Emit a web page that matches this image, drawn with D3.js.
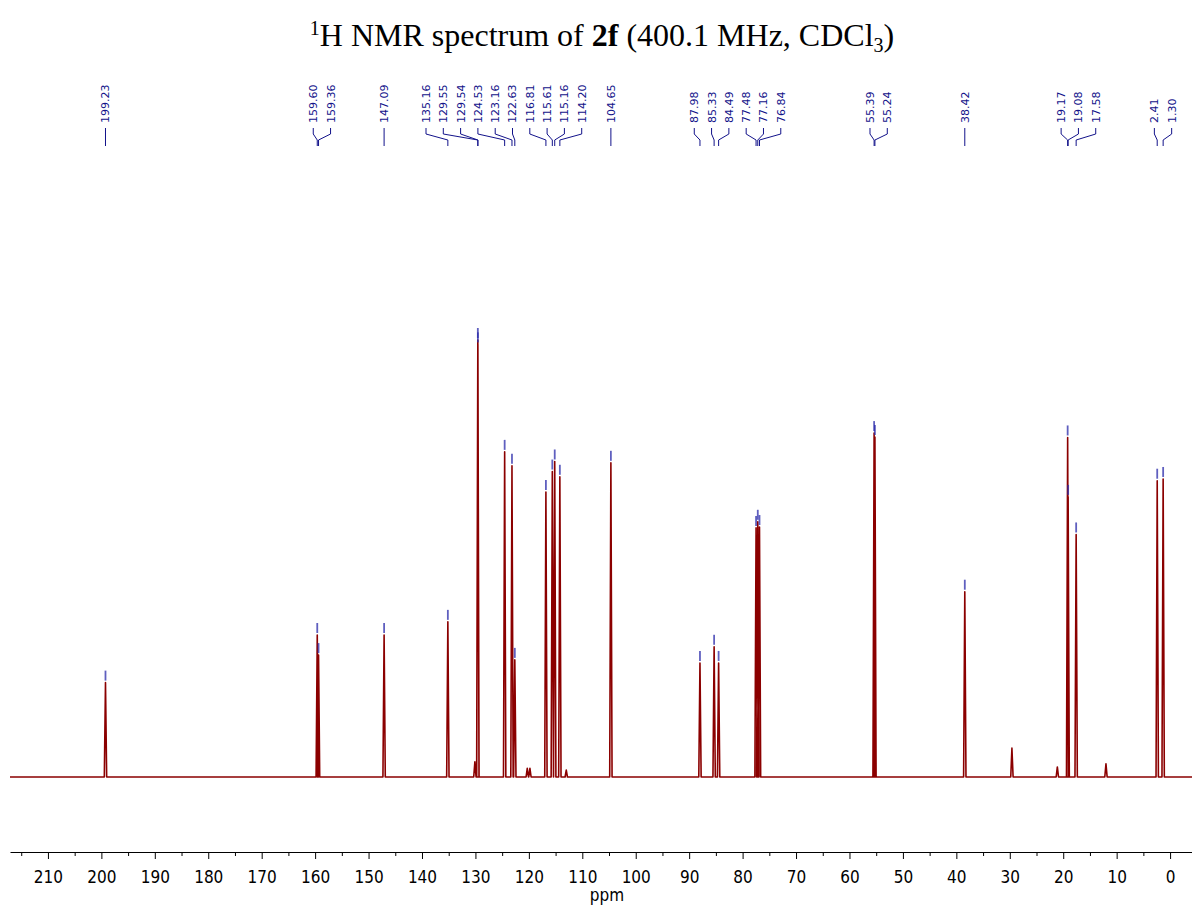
<!DOCTYPE html>
<meta charset="utf-8">
<script src="https://d3js.org/d3.v7.min.js"></script>
<style>
  body { margin: 0; background: #fff; }
</style>
<div id="spectrum"></div>
<script>
  // labelled peaks: shift (ppm) and height (% of the tallest line)
  var peakPpm = [199.23, 159.60, 159.36, 147.09, 135.16, 129.55, 129.54, 124.53, 123.16, 122.63,
    116.81, 115.61, 115.16, 114.20, 104.65, 87.98, 85.33, 84.49, 77.48, 77.16, 76.84,
    55.39, 55.24, 38.42, 19.17, 19.08, 17.58, 2.41, 1.30];
  var peakHeight = [21.6, 32.5, 27.9, 32.5, 35.5, 100, 99, 74.4, 71.2, 26.8,
    65.2, 69.9, 72.2, 68.7, 71.9, 26.1, 29.8, 26.1, 57.0, 58.4, 57.2,
    78.7, 77.8, 42.4, 77.7, 64.1, 55.5, 67.8, 68.2];

  // small signals without a label
  var minorPpm = [130.1, 120.3, 119.8, 113.0, 29.6, 21.1, 12.0];
  var minorHeight = [3.5, 2.0, 2.0, 1.6, 6.6, 2.3, 3.0];

  // axis ticks
  var tickLabels = [210, 200, 190, 180, 170, 160, 150, 140, 130, 120, 110, 100, 90, 80, 70, 60, 50, 40, 30, 20, 10, 0];
  var minorTicks = [215, 205, 195, 185, 175, 165, 155, 145, 135, 125, 115, 105, 95, 85, 75, 65, 55, 45, 35, 25, 15, 5];

  var width = 1192, height = 908;
  var lineColor = "#8b0000", labelColor = "#12128a";

  var svg = d3.select("#spectrum")
    .append("svg")
    .attr("width", width)
    .attr("height", height)
    .style("display", "block");

  // scales (ppm runs right to left)
  var x = d3.scaleLinear().domain([217.1, -4.1]).range([10, 1192]);
  var y = d3.scaleLinear().domain([0, 100]).range([777, 340]);

  // title
  var title = svg.append("text")
    .attr("x", 602)
    .attr("y", 46)
    .attr("text-anchor", "middle")
    .style("font-family", "'Liberation Serif', 'Times New Roman', serif")
    .style("font-size", "32px")
    .style("fill", "#000");
  title.append("tspan").attr("dy", -11).style("font-size", "20px").text("1");
  title.append("tspan").attr("dy", 11).text("H NMR spectrum of ");
  title.append("tspan").style("font-weight", "bold").text("2f");
  title.append("tspan").text(" (400.1 MHz, CDCl");
  title.append("tspan").attr("dy", 6).style("font-size", "20px").text("3");
  title.append("tspan").attr("dy", -6).text(")");

  // spectrum trace built from the peak list
  var peaks = peakPpm.map(function (p, i) { return { ppm: p, h: peakHeight[i] }; })
    .concat(minorPpm.map(function (p, i) { return { ppm: p, h: minorHeight[i] }; }))
    .sort(function (a, b) { return b.ppm - a.ppm; });

  var w = 0.22;
  var pts = [[x.domain()[0], 0]];
  peaks.forEach(function (d) {
    pts.push([d.ppm + w, 0]);
    pts.push([d.ppm, d.h]);
    pts.push([d.ppm - w, 0]);
  });
  pts.push([x.domain()[1], 0]);

  var line = d3.line()
    .x(function (d) { return x(d[0]); })
    .y(function (d) { return y(d[1]); });

  svg.append("path")
    .attr("d", line(pts))
    .attr("fill", "none")
    .attr("stroke", lineColor)
    .attr("stroke-width", 1.6)
    .attr("stroke-linejoin", "round");

  // little markers on top of each labelled peak
  svg.selectAll(".mark")
    .data(peakPpm)
    .enter()
    .append("line")
    .attr("x1", function (d) { return x(d); })
    .attr("x2", function (d) { return x(d); })
    .attr("y1", function (d, i) { return y(peakHeight[i]) - 12; })
    .attr("y2", function (d, i) { return y(peakHeight[i]) - 2; })
    .attr("stroke", "#2a2aaa")
    .attr("stroke-opacity", 0.75)
    .attr("stroke-width", 1.8);

  // label placement: spread labels so they don't overlap
  var gap = 17.3;
  var groups = peakPpm.map(function (p, i) { return { idx: [i], lo: x(p), hi: x(p) }; })
    .sort(function (a, b) { return a.lo - b.lo; });

  function first(g) { return (g.lo + g.hi) / 2 - (g.idx.length - 1) * gap / 2; }
  function last(g) { return first(g) + (g.idx.length - 1) * gap; }

  var merged = true;
  while (merged) {
    merged = false;
    for (var i = 0; i < groups.length - 1; i++) {
      var a = groups[i], b = groups[i + 1];
      if (first(b) - last(a) < gap - 0.01) {
        groups.splice(i, 2, { idx: a.idx.concat(b.idx), lo: Math.min(a.lo, b.lo), hi: Math.max(a.hi, b.hi) });
        merged = true;
        break;
      }
    }
  }

  // start of each group: lean towards a left-to-right push when there is room
  groups.forEach(function (g) {
    g.order = g.idx.slice().sort(function (a, b) { return x(peakPpm[a]) - x(peakPpm[b]); });
    var pos = [];
    g.order.forEach(function (k, j) {
      pos.push(j === 0 ? x(peakPpm[k]) : Math.max(x(peakPpm[k]), pos[j - 1] + gap));
    });
    var span = (g.idx.length - 1) * gap;
    var pushed = ((pos[0] + pos[pos.length - 1]) / 2 + (g.lo + g.hi) / 2) / 2 - span / 2;
    g.start = first(g);
    g.alt = pushed;
  });
  groups.forEach(function (g, i) {
    var span = (g.idx.length - 1) * gap;
    var prev = groups[i - 1], next = groups[i + 1];
    var okLeft = !prev || g.alt - (prev.start + (prev.idx.length - 1) * gap) >= gap;
    var okRight = !next || next.start - (g.alt + span) >= gap;
    if (okLeft && okRight) g.start = g.alt;
  });

  var labelX = [];
  groups.forEach(function (g) {
    g.order.forEach(function (k, j) { labelX[k] = g.start + j * gap; });
  });

  // connectors
  svg.selectAll(".conn")
    .data(peakPpm)
    .enter()
    .append("path")
    .attr("d", function (d, i) {
      return "M" + labelX[i] + ",128V134L" + x(d) + ",140V146";
    })
    .attr("fill", "none")
    .attr("stroke", labelColor)
    .attr("stroke-width", 1);

  // labels
  svg.selectAll(".lab")
    .data(peakPpm)
    .enter()
    .append("text")
    .attr("transform", function (d, i) { return "translate(" + labelX[i] + ",123) rotate(-90)"; })
    .attr("dy", "0.36em")
    .style("font-family", "'DejaVu Sans', Verdana, sans-serif")
    .style("font-size", "11px")
    .style("fill", labelColor)
    .text(function (d) { return d.toFixed(2); });

  // x axis
  var axis = svg.append("g")
    .attr("transform", "translate(0,852)")
    .call(d3.axisBottom(x).tickValues(tickLabels).tickSize(7).tickSizeOuter(0));
  axis.select(".domain").attr("stroke", "#000");
  axis.selectAll(".tick line").attr("stroke", "#000");
  axis.selectAll(".tick text")
    .attr("y", 31)
    .attr("dy", null)
    .style("font-family", "'DejaVu Sans Condensed', 'DejaVu Sans', sans-serif")
    .style("font-stretch", "condensed")
    .style("font-size", "17px")
    .style("fill", "#000");

  svg.append("g")
    .attr("transform", "translate(0,852)")
    .call(d3.axisBottom(x).tickValues(minorTicks).tickSize(4).tickFormat(""))
    .call(function (g) { g.select(".domain").remove(); })
    .selectAll(".tick line").attr("stroke", "#000");

  svg.append("text")
    .attr("x", 607)
    .attr("y", 901)
    .attr("text-anchor", "middle")
    .style("font-family", "'DejaVu Sans Condensed', 'DejaVu Sans', sans-serif")
    .style("font-stretch", "condensed")
    .style("font-size", "17px")
    .text("ppm");
</script>
